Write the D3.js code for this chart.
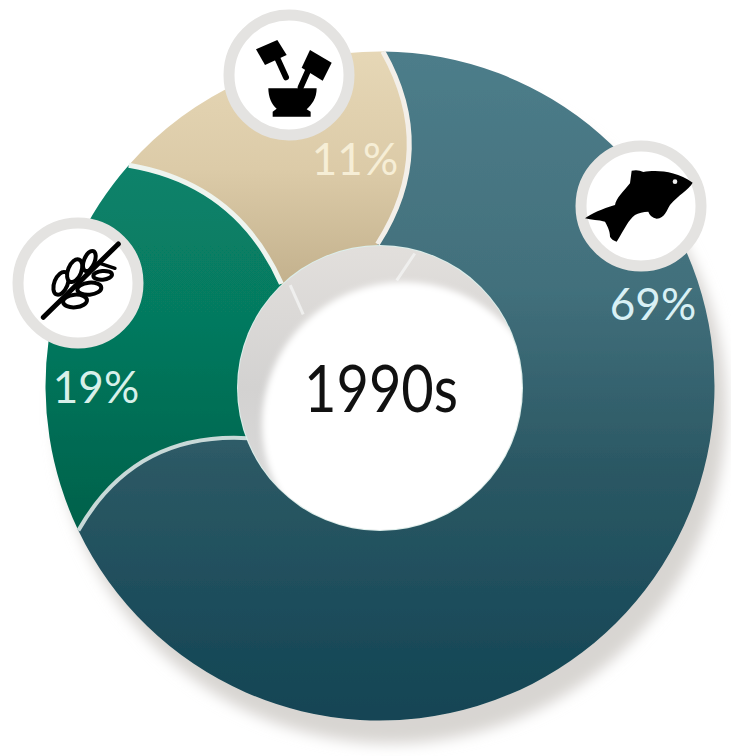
<!DOCTYPE html>
<html><head><meta charset="utf-8">
<script src="https://cdn.jsdelivr.net/npm/d3@7"></script>
<style>html,body{margin:0;padding:0;background:#fff}svg{display:block}text{font-family:Lato,"Noto Sans",sans-serif}</style>
</head><body><svg id="c" width="731" height="756"></svg>
<script>
const categories = ["Fish", "Grain", "Herbs"];
const shares = [69, 19, 11];
const shareLabels = ["69%", "19%", "11%"];
const decade = "1990s";

const W = 731, H = 756, cx = 380, cy = 386, R = 334.5, holeR = 142;
const rad = d3.scaleLinear().domain([0, 360]).range([0, 2 * Math.PI]);
const svg = d3.select("#c").attr("viewBox", [0, 0, W, H]);
const defs = svg.append("defs");

function grad(id, y1, y2, stops) {
  const g = defs.append("linearGradient").attr("id", id).attr("gradientUnits", "userSpaceOnUse")
    .attr("x1", 0).attr("x2", 0).attr("y1", y1).attr("y2", y2);
  stops.forEach(s => g.append("stop").attr("offset", s[0]).attr("stop-color", s[1]));
}
grad("gFish", 52, 721, [[0, "#4d7d8a"], [.35, "#42707c"], [.62, "#2b5864"], [1, "#124454"]]);
grad("gGrain", 170, 535, [[0, "#08826a"], [.4, "#067a5f"], [1, "#04604a"]]);
grad("gHerb", 52, 285, [[0, "#e6d7b6"], [.5, "#dccba8"], [1, "#c3b18d"]]);
grad("gRing", 246, 530, [[0, "#e2dfdc"], [.5, "#d3d2d1"], [1, "#dcdcdc"]]);
defs.append("filter").attr("id", "fShadow").attr("x", "-10%").attr("y", "-10%").attr("width", "120%").attr("height", "120%")
  .append("feGaussianBlur").attr("stdDeviation", 7);
defs.append("filter").attr("id", "fWhite").attr("x", "-10%").attr("y", "-10%").attr("width", "120%").attr("height", "120%")
  .append("feGaussianBlur").attr("stdDeviation", 3);
defs.append("filter").attr("id", "fSoft").append("feGaussianBlur").attr("stdDeviation", .6);
defs.append("clipPath").attr("id", "hole").append("circle").attr("cx", cx).attr("cy", cy + 2).attr("r", holeR);

// Slice angles come from the values, clockwise from the top
const pie = d3.pie().sort(null).startAngle(0).endAngle(rad(356.4));
const arcs = pie(shares);
const polar = (deg, r) => {
  const a = rad(deg);
  return [cx + r * Math.sin(a), cy - r * Math.cos(a)];
};
// boundary between slices: outer and inner ends twist, curve bulges clockwise
const boundary = (a, shiftOut, shiftIn, bulge) => {
  const deg = a * 180 / Math.PI;
  const p0 = polar(deg + shiftOut, R), p1 = polar(deg + shiftIn, holeR);
  const mx = (p0[0] + p1[0]) / 2, my = (p0[1] + p1[1]) / 2;
  const dx = p1[0] - p0[0], dy = p1[1] - p0[1], L = Math.hypot(dx, dy);
  const c = [mx + dy / L * 2 * bulge, my - dx / L * 2 * bulge];
  return { deg, out: deg + shiftOut, inn: deg + shiftIn, p0, p1, c };
};
const bFish = boundary(0, 0.5, -1, 29);
const bGrain = boundary(arcs[0].endAngle, -4, 0, 30);
const bHerb = boundary(arcs[1].endAngle, -5.5, -0.8, 26);
const bounds = [bFish, bGrain, bHerb];

function slicePath(b0, b1, startDeg, endDeg) {
  const p = d3.path();
  p.moveTo(...b0.p0);
  p.arc(cx, cy, R, rad(startDeg - 90), rad(endDeg - 90), false);
  p.quadraticCurveTo(b1.c[0], b1.c[1], b1.p1[0], b1.p1[1]);
  const q = polar(b1.inn, holeR - 20);
  p.lineTo(q[0], q[1]);
  p.arc(cx, cy, holeR - 20, rad(b1.inn - 90), rad(b0.inn - 90), true);
  p.lineTo(b0.p1[0], b0.p1[1]);
  p.quadraticCurveTo(b0.c[0], b0.c[1], b0.p0[0], b0.p0[1]);
  p.closePath();
  return p.toString();
}

// drop shadow
svg.append("circle").attr("cx", cx + 11).attr("cy", cy + 22).attr("r", R + 1)
  .attr("fill", "#d8d5d2").attr("filter", "url(#fShadow)");

const donut = svg.append("g").attr("filter", "url(#fSoft)");
const fishPath = slicePath(bFish, bGrain, bFish.out, bGrain.out);
const grainPath = slicePath(bGrain, bHerb, bGrain.out, bHerb.out);
const herbPath = slicePath(bHerb, { ...bFish, out: bFish.out + 360, inn: bFish.inn + 360 }, bHerb.out, bFish.out + 360);
donut.selectAll("path.slice").data([
  { d: fishPath, f: "url(#gFish)" }, { d: grainPath, f: "url(#gGrain)" }, { d: herbPath, f: "url(#gHerb)" }
]).join("path").attr("class", "slice").attr("d", d => d.d).attr("fill", d => d.f);

// pale seams along the curved boundaries
const seamColors = ["#f3efe9", "#c8d9d8", "#eef4ef"], seamWidths = [5, 4, 5];
donut.selectAll("path.seam").data(bounds).join("path").attr("class", "seam")
  .attr("d", b => `M${b.p0}Q${b.c}  ${b.p1}`).attr("fill", "none")
  .attr("stroke", (b, i) => seamColors[i]).attr("stroke-width", (b, i) => seamWidths[i]);

// centre well with inner shadow
const well = svg.append("g").attr("filter", "url(#fSoft)");
well.append("circle").attr("cx", cx).attr("cy", cy + 2).attr("r", holeR + 1).attr("fill", "#dcefeb");
well.append("circle").attr("cx", cx).attr("cy", cy + 2).attr("r", holeR).attr("fill", "url(#gRing)");
const wellLines = [[14.7, 137, 9, 107], [-41.7, 135, -47, 105]];
well.selectAll("line").data(wellLines).join("line")
  .attr("x1", d => polar(d[0], d[1])[0]).attr("y1", d => polar(d[0], d[1])[1])
  .attr("x2", d => polar(d[2], d[3])[0]).attr("y2", d => polar(d[2], d[3])[1])
  .attr("stroke", "#efefee").attr("stroke-width", 3);
svg.append("g").attr("clip-path", "url(#hole)").append("circle")
  .attr("cx", cx + 24).attr("cy", cy + 38).attr("r", holeR).attr("fill", "#fff").attr("filter", "url(#fWhite)");

svg.append("text").attr("x", cx + 1).attr("y", 412).attr("text-anchor", "middle")
  .attr("font-size", 66).attr("fill", "#111").attr("textLength", 154).attr("lengthAdjust", "spacingAndGlyphs").text(decade);

// percentage labels
const labelPos = [[653, 320], [96, 403], [355, 175]];
const labelCol = ["#d8f0f5", "#d8f0ea", "#f6eed6"];
svg.selectAll("text.pct").data(shareLabels).join("text").attr("class", "pct")
  .attr("x", (d, i) => labelPos[i][0]).attr("y", (d, i) => labelPos[i][1])
  .attr("text-anchor", "middle").attr("font-size", 44).attr("font-weight", 400)
  .attr("fill", (d, i) => labelCol[i]).text(d => d);

// icon badges
const badgePos = [[641, 206], [78, 283], [289, 75]];
const badges = svg.selectAll("g.badge").data(categories).join("g").attr("class", "badge")
  .attr("transform", (d, i) => `translate(${badgePos[i]})`);
badges.append("circle").attr("r", 60).attr("fill", "#fff").attr("stroke", "#e4e3e1").attr("stroke-width", 11);

// Fish icon
const fish = d3.select(badges.nodes()[0]).append("g").attr("transform", "scale(.3333) translate(-243,-198)");
fish.append("path").attr("fill", "#000").attr("d",
  "M75,235 C95,220 125,207 165,195 C168,175 190,155 210,130 L215,92 Q235,88 250,96 C285,90 345,90 398,128 C385,150 355,165 330,195 C320,210 315,235 290,236 Q270,232 265,215 C250,215 235,220 225,225 C205,240 195,265 170,305 Q155,300 150,290 C150,270 140,255 135,245 C115,240 95,240 75,235 Z");
fish.append("circle").attr("cx", 345).attr("cy", 125).attr("r", 7).attr("fill", "#eee");

// Mortar and pestle icon
const mortar = d3.select(badges.nodes()[2]).append("g").attr("transform", "scale(.3333) translate(-867,-225)");
mortar.append("path").attr("fill", "#000").attr("d",
  "M805,265 L950,265 C950,295 935,315 920,328 L932,335 L932,350 L818,350 L818,335 L830,326 C815,315 805,290 805,265 Z");
mortar.append("path").attr("fill", "#000").attr("d", "M768,148 L832,120 L860,165 L795,195 Z");
mortar.append("path").attr("fill", "#000").attr("d", "M930,150 L995,188 L968,242 L905,203 Z");
mortar.append("path").attr("stroke", "#000").attr("stroke-width", 18).attr("stroke-linecap", "round").attr("d", "M832,175 L858,232");
mortar.append("path").attr("stroke", "#000").attr("stroke-width", 18).attr("stroke-linecap", "round").attr("d", "M925,210 L902,262");

// Wheat icon
const wheat = d3.select(badges.nodes()[1]).append("g").attr("transform", "scale(.3333) translate(-234,-849)");
wheat.append("path").attr("fill", "none").attr("stroke", "#000").attr("stroke-width", 15).attr("stroke-linecap", "round")
  .attr("d", "M130,952 L355,732");
const leaves = [[183, 850, -68, 36, 20], [224, 812, -68, 36, 20], [268, 783, -68, 32, 16],
  [225, 903, -5, 36, 19], [268, 866, -5, 36, 18], [308, 826, -5, 28, 13]];
wheat.selectAll("ellipse").data(leaves).join("ellipse")
  .attr("rx", d => d[3]).attr("ry", d => d[4]).attr("fill", "#fff").attr("stroke", "#000").attr("stroke-width", 12)
  .attr("transform", d => `translate(${d[0]},${d[1]}) rotate(${d[2]})`);
wheat.append("path").attr("fill", "none").attr("stroke", "#000").attr("stroke-width", 10).attr("stroke-linecap", "round")
  .attr("d", "M300,790 L345,805");
</script></body></html>
